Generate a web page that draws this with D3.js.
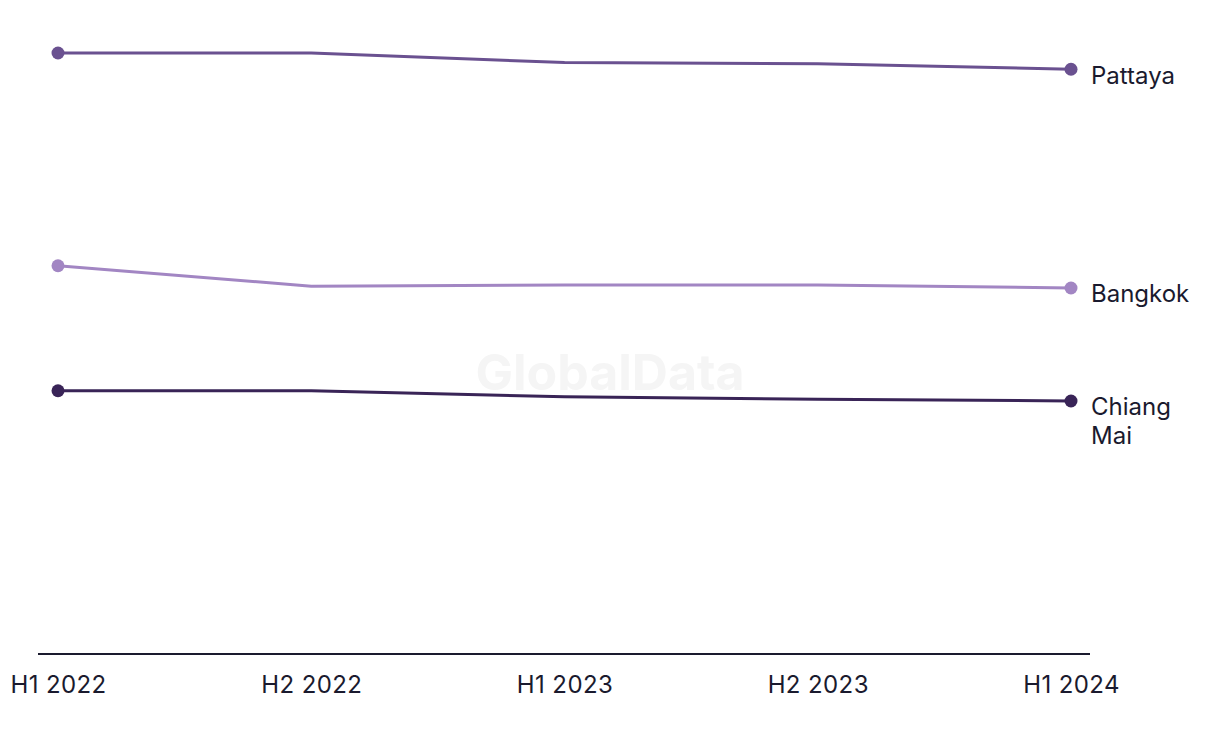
<!DOCTYPE html>
<html><head><meta charset="utf-8">
<script src="https://cdn.jsdelivr.net/npm/d3@7"></script>
<style>body{margin:0;background:#fff;} text{font-family:Inter,"Noto Sans",sans-serif;}</style>
</head><body>
<svg id="chart" width="1220" height="744"></svg>
<script>
const categories = ["H1 2022","H2 2022","H1 2023","H2 2023","H1 2024"];
const pattaya = [100, 100, 98.4, 98.2, 97.3];
const bangkok = [64.6, 61.2, 61.4, 61.4, 60.9];
const chiangMai = [43.8, 43.8, 42.8, 42.4, 42.1];
const seriesNames = ["Pattaya","Bangkok","Chiang Mai"];
const seriesColors = ["#6a5190","#a286c3","#392457"];
const seriesLabelLines = [["Pattaya"],["Bangkok"],["Chiang","Mai"]];
const seriesValues = [pattaya, bangkok, chiangMai];

const svg = d3.select("#chart");
const x = d3.scalePoint().domain(categories).range([58, 1071]);
const y = d3.scaleLinear().domain([0, 100]).range([654, 53]);

// watermark
svg.append("text").attr("x", 610).attr("y", 390).attr("text-anchor","middle")
  .attr("font-size", 50).attr("font-weight", 700).attr("fill", "#f5f5f5").text("GlobalData");

// x axis
const axis = svg.append("g").attr("transform","translate(0,654)")
  .call(d3.axisBottom(x).tickSize(0).tickPadding(22));
axis.select(".domain").remove();
axis.append("line").attr("x1",38).attr("x2",1090).attr("y1",0).attr("y2",0)
  .attr("stroke","#1a1a2e").attr("stroke-width",2);
axis.selectAll(".tick text").attr("font-size",24).attr("fill","#1a1a2e")
  .attr("letter-spacing","0.4px")
  .attr("font-family","Inter, 'Noto Sans', sans-serif").attr("dy","0.71em");

const line = d3.line().x((d,i)=>x(categories[i])).y(d=>y(d));

seriesValues.forEach((vals, s) => {
  svg.append("path").datum(vals).attr("d", line).attr("fill","none")
    .attr("stroke", seriesColors[s]).attr("stroke-width", 3)
    .attr("stroke-linejoin","round");
  const ends = [0, vals.length-1];
  svg.append("g").selectAll("circle").data(ends).join("circle")
    .attr("cx",i=>x(categories[i])).attr("cy",i=>y(vals[i])).attr("r",6.5)
    .attr("fill", seriesColors[s]);
  const last = vals[vals.length-1];
  const lx = x(categories[categories.length-1]) + 20;
  const t = svg.append("text").attr("x", lx)
    .attr("y", y(last)).attr("font-size", 24).attr("fill","#1a1a2e");
  seriesLabelLines[s].forEach((ln, k) => {
    t.append("tspan").attr("x", lx)
      .attr("dy", k === 0 ? "0.6em" : "1.2em").text(ln);
  });
});
</script>
</body></html>
